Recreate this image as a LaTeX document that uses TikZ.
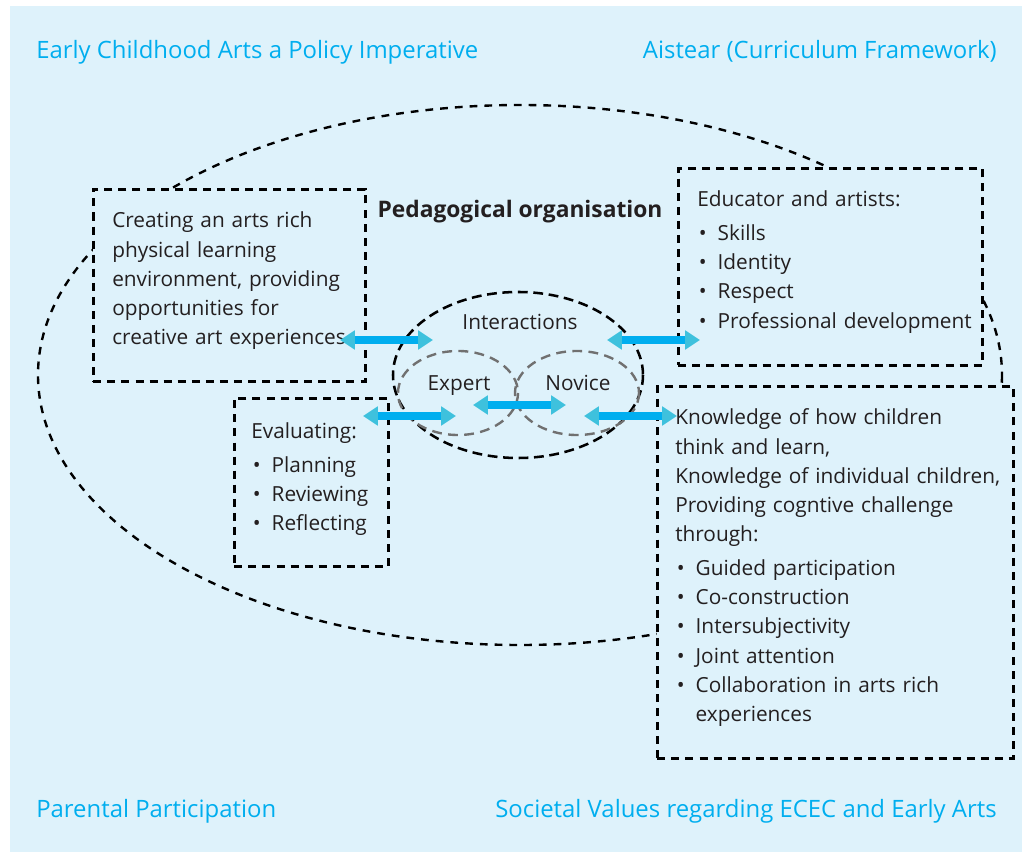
\documentclass[tikz,border=0pt]{standalone}
\usepackage{fontspec}
\setmainfont{Open Sans}
\usepackage{tikz}
\usetikzlibrary{arrows.meta,calc,positioning}

\definecolor{hgblau}{RGB}{222,242,251}
\definecolor{titelblau}{RGB}{0,174,239}
\definecolor{spitzblau}{RGB}{62,193,221}
\definecolor{textgrau}{RGB}{35,31,32}
\definecolor{ringgrau}{RGB}{112,112,112}

\newcommand{\txtsize}{\fontsize{14.8pt}{20.8pt}\selectfont}
\newcommand{\titsize}{\fontsize{17pt}{20pt}\selectfont}
\newcommand{\bul}[1]{\makebox[8pt][c]{\textbullet}\hspace{6.5pt}#1}

\begin{document}
\begin{tikzpicture}[x=0.025cm, y=-0.025cm, inner sep=0pt,
	box/.style={draw=black, fill=hgblau, line width=1.9pt, dash pattern=on 5.7pt off 4.3pt, anchor=north west},
	body/.style={text=textgrau, font=\txtsize, align=left, anchor=base west},
	titel/.style={text=titelblau, font=\titsize},
	doppel/.style={{Triangle[length=10.5pt, width=13pt, color=spitzblau]}-{Triangle[length=10.5pt, width=13pt, color=spitzblau]}, draw=titelblau, line width=5.6pt},
	ring/.style={draw=ringgrau, line width=1.7pt, dash pattern=on 7pt off 4.5pt}]
	
	% Hintergrund
	\useasboundingbox (0,0) rectangle (1022,852);
	\fill[hgblau] (10,6) rectangle (1022,852);
	
	% Rahmen aussen
	\draw[black, line width=1.7pt, dash pattern=on 5.5pt off 5pt] (520,375) ellipse [x radius=482, y radius=270];
	
	% Kaesten
	\node[box, minimum width=6.8cm, minimum height=4.8cm](a) at (92,188) {};
	\node[box, minimum width=3.85cm, minimum height=4.2cm](b) at (233,397) {};
	\node[box, minimum width=7.6cm, minimum height=4.925cm](c) at (677,167) {};
	\node[box, minimum width=8.9cm, minimum height=9.3cm](d) at (656,385) {};
	
	% Interaktionen
	\draw[black, line width=1.8pt, dash pattern=on 7pt off 4pt] (518,375) ellipse [x radius=125, y radius=83];
	\draw[ring] (458,393) ellipse [x radius=60, y radius=42];
	\draw[ring] (577,393) ellipse [x radius=62, y radius=42];
	
	% Titel
	\node[titel, anchor=base west](T1) at (36,59) {Early Childhood Arts a Policy Imperative};
	\node[titel, anchor=base east](T2) at (997,59) {Aistear (Curriculum Framework)};
	\node[titel, anchor=base west](T3) at (36,817) {Parental Participation};
	\node[titel, anchor=base east](T4) at (997,817) {Societal Values regarding ECEC and Early Arts};
	
	\node[text=textgrau, font=\fontsize{16.2pt}{20pt}\selectfont\bfseries, anchor=base](P) at (520,218) {Pedagogical organisation};
	\node[text=textgrau, font=\txtsize, anchor=base](I) at (520,330) {Interactions};
	\node[text=textgrau, font=\txtsize, anchor=base](E) at (459,391) {Expert};
	\node[text=textgrau, font=\txtsize, anchor=base](N) at (578,391) {Novice};
	
	% Texte
	\node[body, text width=6.2cm](A) at ($(a.north west)+(20,40)$) {Creating an arts rich\\physical learning\\environment, providing\\opportunities for\\creative art experiences};
	\node[body, text width=3.4cm](B) at ($(b.north west)+(18,42)$) {Evaluating:\\[3pt]\bul{Planning}\\\bul{Reviewing}\\\bul{Reflecting}};
	\node[body, text width=7cm](C) at ($(c.north west)+(20,40)$) {Educator and artists:\\[3pt]\bul{Skills}\\\bul{Identity}\\\bul{Respect}\\\bul{Professional development}};
	\node[body, text width=8.5cm](D) at ($(d.north west)+(19,40)$) {Knowledge of how children\\think and learn,\\Knowledge of individual children,\\Providing cogntive challenge\\through:\\[3pt]\bul{Guided participation}\\\bul{Co-construction}\\\bul{Intersubjectivity}\\\bul{Joint attention}\\\bul{Collaboration in arts rich}\\\hspace*{14.5pt}experiences};
	
	% Pfeile
	\coordinate (p1a) at (340,340);
	\coordinate (p1b) at (433,340);
	\coordinate (p2a) at (607,340);
	\coordinate (p2b) at (700,340);
	\coordinate (p3a) at (363,416);
	\coordinate (p3b) at (456,416);
	\coordinate (p4a) at (473,405);
	\coordinate (p4b) at (566,405);
	\coordinate (p5a) at (584,416);
	\coordinate (p5b) at (677,416);
	
	\draw[doppel] (p1a) -- (p1b);
	\draw[doppel] (p2a) -- (p2b);
	\draw[doppel] (p3a) -- (p3b);
	\draw[doppel] (p4a) -- (p4b);
	\draw[doppel] (p5a) -- (p5b);
\end{tikzpicture}
\end{document}
